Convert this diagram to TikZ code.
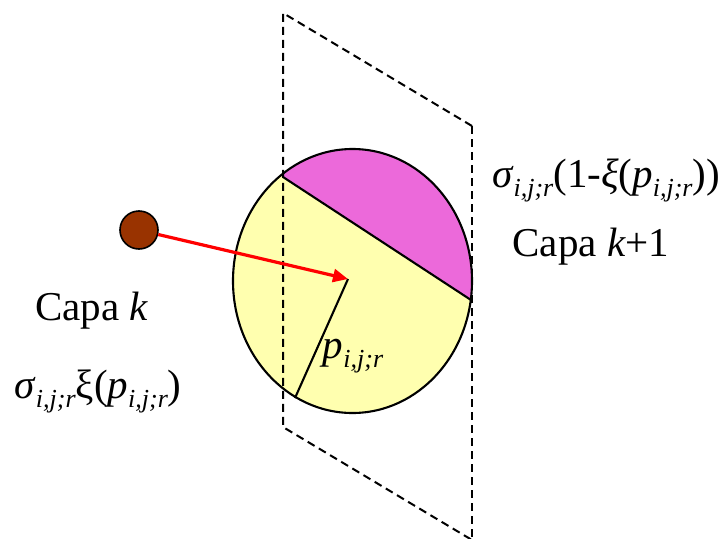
\documentclass[tikz,border=0pt]{standalone}
\usepackage{fontspec}
\setmainfont{Liberation Serif}
\usetikzlibrary{shapes.geometric,arrows.meta}
\definecolor{paleyellow}{RGB}{255,255,175}
\definecolor{pinkfill}{RGB}{236,105,218}
\definecolor{ballbrown}{RGB}{153,51,0}
\definecolor{arrowred}{RGB}{255,0,0}
\newcommand{\sbs}[1]{\raisebox{-0.22em}{\fontsize{26}{26}\selectfont\itshape #1}}
\begin{document}
\begin{tikzpicture}[x=1pt,y=-1pt,
  lbl/.style={font=\fontsize{41}{48}\selectfont, inner sep=0pt},
  dashedline/.style={draw=black, line width=2pt, dash pattern=on 8pt off 5pt},
  outline/.style={draw=black, line width=2.1pt}]
\useasboundingbox (0,0) rectangle (725,538);
% disk
\node[ellipse, fill=paleyellow, minimum width=239pt, minimum height=264pt, inner sep=0pt] (disk) at (352.5,281) {};
\begin{scope}
  \clip (352.5,281) ellipse [x radius=119.5, y radius=132];
  \fill[pinkfill] (200,123) -- (500,319) -- (500,100) -- (200,100) -- cycle;
\end{scope}
\draw[outline] (352.5,281) ellipse [x radius=119.5, y radius=132];
% chord and radius
\coordinate (ch1) at (283,177);
\coordinate (ch2) at (471,300);
\coordinate (ctr) at (348,279);
\coordinate (rim) at (295,398);
\draw[outline] (ch1) -- (ch2);
\draw[outline] (ctr) -- (rim);
% dashed plane
\coordinate (pa) at (283,13);
\coordinate (pb) at (472,126);
\coordinate (pc) at (472,540);
\coordinate (pd) at (283,427);
\draw[dashedline] (pb) -- (pa) -- (pd) -- (pc);
\draw[dashedline] (pb) -- (pc);
% ball and arrow
\node[circle, fill=ballbrown, draw=black, line width=1.6pt, minimum size=38pt, inner sep=0pt] (ball) at (139,230) {};
\draw[arrowred, line width=3.2pt, -{Triangle[length=15pt,width=13pt]}] (ball) -- (ctr);
% labels
\node[lbl] (plabel) at (353,356) {\textit{p}\sbs{i,j;r}};
\node[lbl] (capak) at (92,311) {Capa \textit{k}};
\node[lbl] (sigleft) at (98,391) {\textit{σ}\sbs{i,j;r}ξ(\textit{p}\sbs{i,j;r})};
\node[lbl] (sigright) at (606,180) {\textit{σ}\sbs{i,j;r}(1-\textit{ξ}(\textit{p}\sbs{i,j;r}))};
\node[lbl] (capak1) at (591,247) {Capa \textit{k}+1};
\end{tikzpicture}
\end{document}
